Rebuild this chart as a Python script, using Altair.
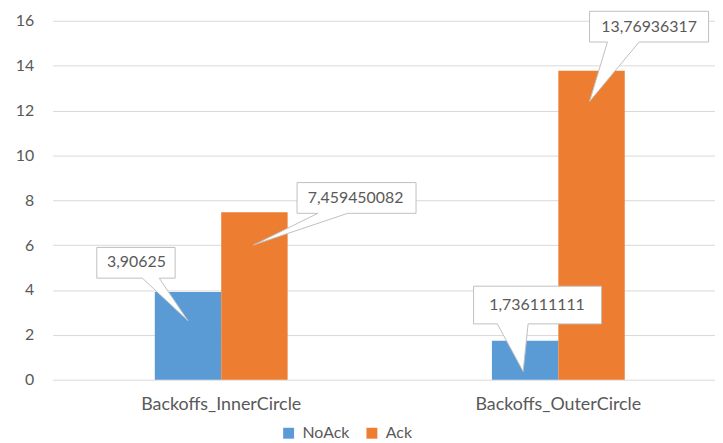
import altair as alt
import pandas as pd

categories = ["Backoffs_InnerCircle", "Backoffs_OuterCircle"]
series = ["NoAck", "Ack"]
noack_values = [3.90625, 1.736111111]
ack_values = [7.459450082, 13.76936317]
labels_noack = ["3,90625", "1,736111111"]
labels_ack = ["7,459450082", "13,76936317"]
y_ticks = [0, 2, 4, 6, 8, 10, 12, 14, 16]

rows = []
for i, c in enumerate(categories):
    rows.append({"category": c, "series": "NoAck", "value": noack_values[i], "label": labels_noack[i]})
    rows.append({"category": c, "series": "Ack", "value": ack_values[i], "label": labels_ack[i]})
df = pd.DataFrame(rows)
df["key"] = df["series"] + "|" + df["category"]

# callout shapes (styling): box + wedge, relative to bar top-centre; plus text offsets
callout_style = {
    "NoAck|Backoffs_InnerCircle": ("M-92,-45 H-13 V-14 H-29 L0,29 L-46,-14 H-92 Z", -52, -30),
    "Ack|Backoffs_InnerCircle": ("M43,-30 H163 V1 H94 L-1,33 L64,1 H43 Z", 102, -14.5),
    "Ack|Backoffs_OuterCircle": ("M-2,-60 H118 V-29 H48 L-2,31 L16,-29 H-2 Z", 58, -44.5),
    "NoAck|Backoffs_OuterCircle": ("M-52,-55 H77 V-17 H3 L-2,31 L-28,-17 H-52 Z", 12, -36),
}
keys = list(callout_style.keys())
paths = [callout_style[k][0] for k in keys]

x_enc = alt.X(
    "category:N",
    sort=categories,
    scale=alt.Scale(paddingInner=0.606, paddingOuter=0.2854, align=0.531),
    axis=alt.Axis(
        title=None, labelAngle=0, ticks=False, domain=False, grid=False,
        labelColor="#595959", labelFontSize=18, labelBaseline="alphabetic",
        labelPadding=30,
    ),
)
xoff_enc = alt.XOffset("series:N", sort=series, scale=alt.Scale(domain=series, paddingInner=0, paddingOuter=0))
y_enc = alt.Y(
    "value:Q",
    scale=alt.Scale(domain=[0, 16], nice=False),
    axis=alt.Axis(
        title=None, values=y_ticks, ticks=False, domain=False, grid=True,
        gridColor="#d9d9d9", gridWidth=1, labelColor="#595959", labelFontSize=16,
        labelPadding=19,
    ),
)

bars = alt.Chart(df).mark_bar().encode(
    x=x_enc,
    xOffset=xoff_enc,
    y=y_enc,
    color=alt.Color(
        "series:N",
        sort=series,
        scale=alt.Scale(domain=series, range=["#5B9BD5", "#ED7D31"]),
        legend=alt.Legend(
            title=None, orient="none", direction="horizontal", legendX=230, legendY=408,
            symbolType="square", symbolSize=121, symbolStrokeWidth=0,
            labelFontSize=16, labelColor="#595959", labelOffset=6, columnPadding=14,
        ),
    ),
)

callouts = alt.Chart(df).mark_point(
    filled=True, fill="white", stroke="#bfbfbf", strokeWidth=1, size=4, opacity=1
).encode(
    x=alt.X("category:N", sort=categories),
    xOffset=alt.XOffset("series:N", sort=series),
    y=alt.Y("value:Q"),
    shape=alt.Shape("key:N", scale=alt.Scale(domain=keys, range=paths), legend=None),
)

texts = []
for k in keys:
    _, dx, dy = callout_style[k]
    t = alt.Chart(df).transform_filter(alt.datum.key == k).mark_text(
        font="Lato", fontSize=16, color="#595959", align="center", baseline="middle",
        dx=dx, dy=dy,
    ).encode(
        x=alt.X("category:N", sort=categories),
        xOffset=alt.XOffset("series:N", sort=series),
        y=alt.Y("value:Q"),
        text="label:N",
    )
    texts.append(t)

chart = alt.layer(bars, callouts, *texts).properties(
    width=668, height=362,
    autosize=alt.AutoSizeParams(type="none"),
    padding={"left": 45, "top": 11, "right": 0, "bottom": 60},
).configure(font="Lato").configure_view(stroke=None)

chart.save("out.html", embed_options={"renderer": "svg", "actions": False})
